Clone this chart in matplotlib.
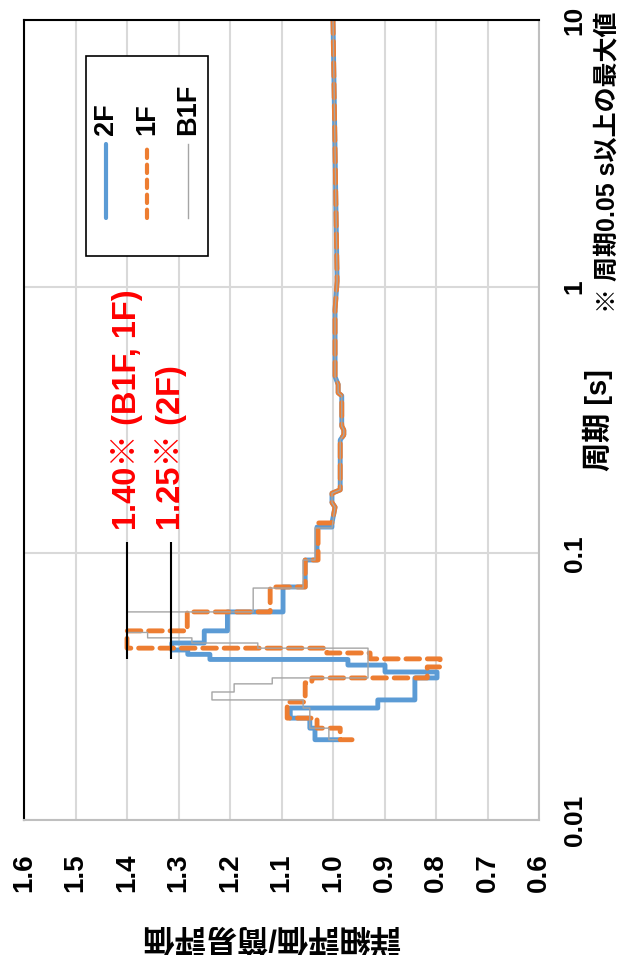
import numpy as np
import matplotlib
matplotlib.use("Agg")
import matplotlib.pyplot as plt
from matplotlib.ticker import NullLocator
from matplotlib.lines import Line2D
from matplotlib.patches import Rectangle

plt.rcParams['font.family'] = ['Liberation Sans', 'Noto Sans CJK JP']
plt.rcParams['font.weight'] = 'bold'

# 長周期側 (0.15 s 以上) は3フロアとも同じ値
long_T = [10.0, 1.05, 0.82, 0.46, 0.43, 0.40, 0.39, 0.30, 0.29, 0.278, 0.266,
          0.173, 0.168, 0.155, 0.149]
long_r = [1.000, 0.992, 0.996, 0.996, 0.990, 0.990, 0.983, 0.983, 0.979, 0.979,
          0.986, 0.986, 1.002, 1.002, 0.996]

# 2F
T_2F = long_T + [0.13, 0.1255, 0.1255, 0.0944, 0.0944, 0.0748, 0.0748, 0.0603,
                 0.0603, 0.0512, 0.0512, 0.0461, 0.0461, 0.0434, 0.0434, 0.0418,
                 0.0418, 0.0400, 0.0400, 0.0381, 0.0381, 0.0359, 0.0359, 0.0341,
                 0.0341, 0.0282, 0.0282, 0.0263, 0.0263, 0.0241, 0.0241, 0.0221,
                 0.0221, 0.0200, 0.0200]
r_2F = long_r + [1.002, 1.002, 1.031, 1.031, 1.054, 1.054, 1.097, 1.097, 1.205,
                 1.205, 1.25, 1.25, 1.313, 1.313, 1.282, 1.282, 1.239, 1.239,
                 0.971, 0.971, 0.899, 0.899, 0.798, 0.798, 0.841, 0.841, 0.913,
                 0.913, 1.083, 1.083, 1.045, 1.045, 1.035, 1.035, 0.988]

# 1F
T_1F = long_T + [0.13, 0.13, 0.0944, 0.0944, 0.0748, 0.0748, 0.0603, 0.0603,
                 0.0512, 0.0512, 0.0441, 0.0441, 0.0423, 0.0423, 0.0402, 0.0402,
                 0.0375, 0.0375, 0.0341, 0.0341, 0.0327, 0.0327, 0.0277, 0.0277,
                 0.0241, 0.0241, 0.0221, 0.0221, 0.0200, 0.0200]
r_1F = long_r + [1.002, 1.029, 1.029, 1.054, 1.054, 1.122, 1.122, 1.283, 1.283,
                 1.40, 1.40, 1.012, 1.012, 0.928, 0.928, 0.792, 0.792, 0.817,
                 0.817, 1.041, 1.041, 1.054, 1.054, 1.089, 1.089, 1.031, 1.031,
                 0.986, 0.986, 0.963]

# B1F
T_B1F = long_T + [0.1245, 0.1245, 0.0944, 0.0944, 0.0741, 0.0741, 0.0603, 0.0603,
                  0.0505, 0.0505, 0.0482, 0.0482, 0.0461, 0.0461, 0.0441, 0.0441,
                  0.0341, 0.0341, 0.0324, 0.0324, 0.0302, 0.0302, 0.0282, 0.0282,
                  0.0263, 0.0263, 0.0221, 0.0221, 0.0200, 0.0200]
r_B1F = long_r + [1.002, 1.035, 1.035, 1.058, 1.058, 1.155, 1.155, 1.40, 1.40,
                  1.36, 1.36, 1.274, 1.274, 1.146, 1.146, 0.932, 0.932, 1.118,
                  1.118, 1.192, 1.192, 1.235, 1.235, 1.058, 1.058, 1.045, 1.045,
                  1.008, 1.008, 0.992]

# 注記 (周期0.05 s以上の最大値)
note_text = ['1.40※ (B1F, 1F)', '1.25※ (2F)']
note_r = [1.40, 1.315]
note_T = [0.11, 0.0402]

r_ticks = np.round(np.arange(0.6, 1.61, 0.1), 1)
T_ticks = [0.01, 0.1, 1, 10]
T_labels = ['0.01', '0.1', '1', '10']

W, H = 629, 955


def fxy(x, y):
    # ピクセル位置 -> figure座標
    return x / W, 1 - y / H


fig = plt.figure(figsize=(W / 100, H / 100), dpi=100)
ax = fig.add_axes([24 / W, 1 - 820 / H, 515 / W, 800 / H])

ax.plot(r_2F, T_2F, color='#5B9BD5', lw=3.5, solid_joinstyle='round',
        solid_capstyle='round')
ax.plot(r_1F, T_1F, color='#ED7D31', lw=3.5, ls=(0, (2.8, 1.6)),
        dash_capstyle='round', dash_joinstyle='round')
ax.plot(r_B1F, T_B1F, color='#A5A5A5', lw=1.0)

ax.vlines(note_r, note_T[1], note_T[0], color='black', lw=1.5)
ax.text(note_r[0], 0.1224, note_text[0], rotation=90, ha='center', va='bottom',
        color='#FF0000', fontsize=23.5)
ax.text(note_r[1], 0.1224, note_text[1], rotation=90, ha='center', va='bottom',
        color='#FF0000', fontsize=23.5)

ax.set_xlim(1.6, 0.6)
ax.set_yscale('log')
ax.set_ylim(0.01, 10)
ax.set_xticks(r_ticks)
ax.set_xticklabels(['%.1f' % v for v in r_ticks])
ax.set_yticks(T_ticks)
ax.set_yticklabels(T_labels)
ax.yaxis.set_minor_locator(NullLocator())
ax.yaxis.tick_right()
ax.tick_params(axis='x', length=0, pad=24, labelsize=20, labelrotation=90)
ax.tick_params(axis='y', length=0, pad=17, labelsize=19, labelrotation=90)
for lab in ax.get_yticklabels():
    lab.set_va('center')

ax.grid(True, color='#D9D9D9', lw=1.5)
ax.set_axisbelow(True)
for s in ['left', 'top']:
    ax.spines[s].set_color('black')
    ax.spines[s].set_linewidth(1.5)
for s in ['right', 'bottom']:
    ax.spines[s].set_color('#BFBFBF')
    ax.spines[s].set_linewidth(1.5)

# 軸ラベル
fig.text(*fxy(598, 420), '周期 [s]', rotation=90, ha='center', va='center',
         fontsize=21)
fig.text(*fxy(607, 313), '※ 周期0.05 s以上の最大値', rotation=90, ha='center',
         va='bottom', fontsize=18)
fig.text(*fxy(271, 935), '詳細評価/簡易評価', rotation=180, ha='center',
         va='center', fontsize=22.5)

# 凡例
x0, y0 = fxy(86, 256)
x1, y1 = fxy(208, 56)
fig.add_artist(Rectangle((x0, y0), x1 - x0, y1 - y0, transform=fig.transFigure,
                         facecolor='white', edgecolor='black', lw=1.2))
leg = [('2F', 106, dict(color='#5B9BD5', lw=3.0, solid_capstyle='round')),
       ('1F', 147, dict(color='#ED7D31', lw=3.0, ls=(0, (2.0, 1.6)),
                        dash_capstyle='round')),
       ('B1F', 188, dict(color='#A5A5A5', lw=1.0))]
for name, lx, style in leg:
    xa, ya = fxy(lx, 218)
    xb, yb = fxy(lx, 144)
    fig.add_artist(Line2D([xa, xb], [ya, yb], transform=fig.transFigure, **style))
    fig.text(*fxy(lx, 135), name, rotation=90, ha='center', va='bottom',
             fontsize=19.5)

fig.savefig('out.png', dpi=100)
